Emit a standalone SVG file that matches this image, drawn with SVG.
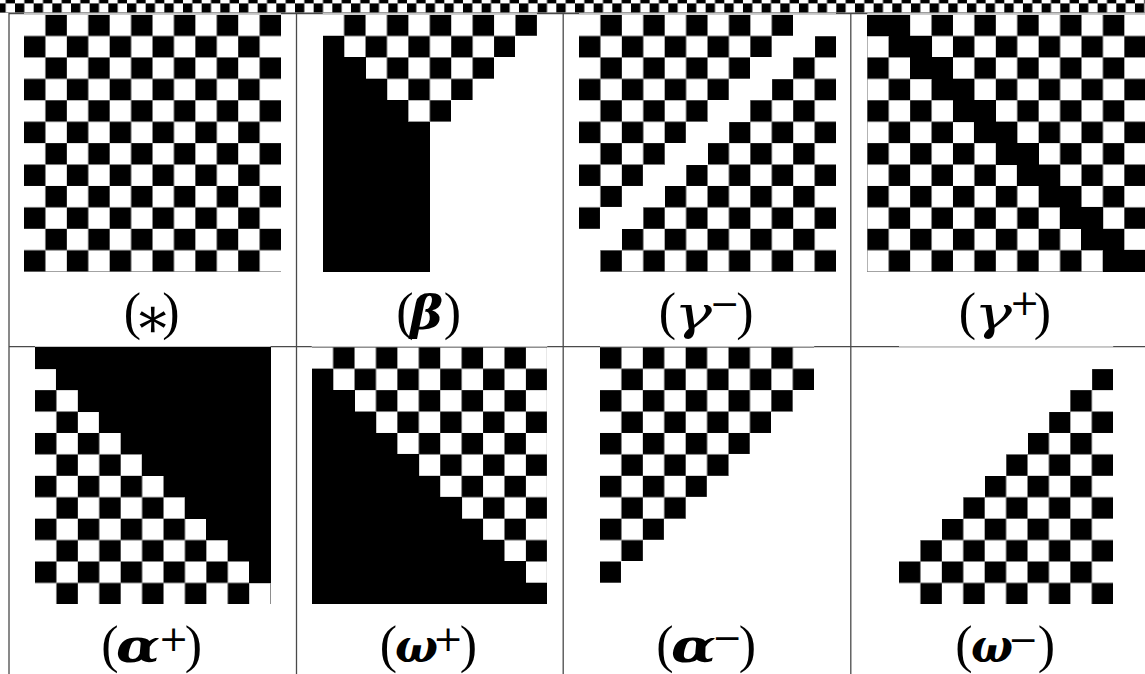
<svg xmlns="http://www.w3.org/2000/svg" width="1145" height="674" viewBox="0 0 1145 674">
<style>
.lab { font-family: "Liberation Serif", "DejaVu Serif", serif; font-size: 52px; fill: #000; }
.par { text-anchor: middle; }
.gr { font-family: "DejaVu Serif", "Liberation Serif", serif; font-size: 47px; font-style: italic; }
.it { font-weight: normal; }
.bi { font-weight: bold; }
.sup { font-family: "DejaVu Serif", serif; font-size: 36px; text-anchor: middle; }
.ast { font-family: "DejaVu Serif", serif; font-size: 56px; text-anchor: middle; }
.dark { stroke: #4a4a4a; stroke-width: 1.3; fill: none; }
.light { stroke: #c4c4c4; stroke-width: 1.3; fill: none; }
.board { shape-rendering: crispEdges; }
</style>
<defs>
<pattern id="even" width="2" height="2" patternUnits="userSpaceOnUse"><rect width="1" height="1" fill="#000"/><rect x="1" y="1" width="1" height="1" fill="#000"/></pattern>
<pattern id="odd" width="2" height="2" patternUnits="userSpaceOnUse"><rect x="1" width="1" height="1" fill="#000"/><rect y="1" width="1" height="1" fill="#000"/></pattern>
</defs>
<rect width="1145" height="674" fill="#fff"/>

<g id="top-strip" class="board" transform="translate(15,3.4) scale(9.333)">
<rect x="-2" y="-1" width="125" height="2" fill="url(#even)"/>
</g>

<g id="connectors">
<line class="dark" x1="9" y1="13.7" x2="1145" y2="13.7"/>
<line class="light" x1="24" y1="13.7" x2="281" y2="13.7"/>
<line class="light" x1="322.7" y1="13.7" x2="536.9" y2="13.7"/>
<line class="light" x1="579" y1="13.7" x2="836" y2="13.7"/>
<line class="light" x1="867.3" y1="13.7" x2="1145" y2="13.7"/>
<line class="dark" x1="9" y1="346.7" x2="1145" y2="346.7"/>
<line class="light" x1="35" y1="346.7" x2="270.6" y2="346.7"/>
<line class="light" x1="311.7" y1="346.7" x2="547.3" y2="346.7"/>
<line class="light" x1="600" y1="346.7" x2="814.2" y2="346.7"/>
<line class="light" x1="899" y1="346.7" x2="1113.2" y2="346.7"/>
<line class="dark" x1="9" y1="13" x2="9" y2="674"/>
<line class="dark" x1="296.5" y1="13" x2="296.5" y2="674"/>
<line class="dark" x1="563.2" y1="13" x2="563.2" y2="674"/>
<line class="dark" x1="850.8" y1="13" x2="850.8" y2="674"/>
</g>

<g id="panel-star">
<g class="board" transform="translate(24,14.6) scale(21.42)">
<rect width="12" height="12" fill="url(#odd)"/>
</g>
<text class="lab par" x="132.5" y="329">(</text>
<text class="ast" x="152.5" y="336.5">∗</text>
<text class="lab par" x="171" y="329">)</text>
</g>

<g id="panel-beta">
<g class="board" transform="translate(322.7,14.6) scale(21.42)">
<polygon fill="url(#odd)" points="0,0 10,0 10,1 9,1 9,2 8,2 8,3 7,3 7,4 6,4 6,5 4,5 4,4 3,4 3,3 2,3 2,2 1,2 1,1 0,1"/>
<polygon fill="#000" points="0,1 1,1 1,2 2,2 2,3 3,3 3,4 4,4 4,5 5,5 5,12 0,12"/>
</g>
<text class="lab par" x="405" y="329">(</text>
<text class="gr bi" x="410" y="329" textLength="33" lengthAdjust="spacingAndGlyphs">β</text>
<text class="lab par" x="452.5" y="329">)</text>
</g>

<g id="panel-gamma-minus">
<g class="board" transform="translate(579,14.6) scale(21.42)">
<polygon fill="url(#odd)" points="0,0 10,0 10,1 9,1 9,2 8,2 8,3 7,3 7,4 6,4 6,5 5,5 5,6 4,6 4,7 3,7 3,8 2,8 2,9 1,9 1,10 0,10"/>
<polygon fill="url(#even)" points="12,1 12,12 1,12 1,11 2,11 2,10 3,10 3,9 4,9 4,8 5,8 5,7 6,7 6,6 7,6 7,5 8,5 8,4 9,4 9,3 10,3 10,2 11,2 11,1"/>
</g>
<text class="lab par" x="667.5" y="329">(</text>
<text class="gr it" x="674" y="329" textLength="38" lengthAdjust="spacingAndGlyphs">γ</text>
<text class="sup" x="724.5" y="315.5">−</text>
<text class="lab par" x="745" y="329">)</text>
</g>

<g id="panel-gamma-plus">
<g class="board" transform="translate(867.3,14.6) scale(21.42)">
<polygon fill="url(#even)" points="0,1 1,1 1,2 2,2 2,3 3,3 3,4 4,4 4,5 5,5 5,6 6,6 6,7 7,7 7,8 8,8 8,9 9,9 9,10 10,10 10,11 11,11 11,12 0,12"/>
<polygon fill="#000" points="0,0 2,0 2,1 3,1 3,2 4,2 4,3 5,3 5,4 6,4 6,5 7,5 7,6 8,6 8,7 9,7 9,8 10,8 10,9 11,9 11,10 12,10 12,11 13,11 13,12 11,12 11,11 10,11 10,10 9,10 9,9 8,9 8,8 7,8 7,7 6,7 6,6 5,6 5,5 4,5 4,4 3,4 3,3 2,3 2,2 1,2 1,1 0,1"/>
<polygon fill="url(#odd)" points="2,0 13,0 13,11 12,11 12,10 11,10 11,9 10,9 10,8 9,8 9,7 8,7 8,6 7,6 7,5 6,5 6,4 5,4 5,3 4,3 4,2 3,2 3,1 2,1"/>
</g>
<text class="lab par" x="967.5" y="329">(</text>
<text class="gr it" x="974" y="329" textLength="38" lengthAdjust="spacingAndGlyphs">γ</text>
<text class="sup" x="1024.5" y="314.5">+</text>
<text class="lab par" x="1042.5" y="329">)</text>
</g>

<g id="panel-alpha-plus">
<g class="board" transform="translate(35,347.3) scale(21.42)">
<rect width="11" height="12" fill="url(#even)"/>
<polygon fill="#000" points="0,0 11,0 11,11 10,11 10,10 9,10 9,9 8,9 8,8 7,8 7,7 6,7 6,6 5,6 5,5 4,5 4,4 3,4 3,3 2,3 2,2 1,2 1,1 0,1"/>
</g>
<text class="lab par" x="110" y="662">(</text>
<text class="gr bi" x="116" y="662" textLength="44" lengthAdjust="spacingAndGlyphs">α</text>
<text class="sup" x="173.5" y="651">+</text>
<text class="lab par" x="193.5" y="662">)</text>
</g>

<g id="panel-omega-plus">
<g class="board" transform="translate(311.7,347.3) scale(21.42)">
<rect width="11" height="12" fill="url(#odd)"/>
<polygon fill="#000" points="0,1 1,1 1,2 2,2 2,3 3,3 3,4 4,4 4,5 5,5 5,6 6,6 6,7 7,7 7,8 8,8 8,9 9,9 9,10 10,10 10,11 11,11 11,12 0,12"/>
</g>
<text class="lab par" x="388.5" y="662">(</text>
<text class="gr bi" x="395" y="662" textLength="43" lengthAdjust="spacingAndGlyphs">ω</text>
<text class="sup" x="448" y="650.5">+</text>
<text class="lab par" x="468.5" y="662">)</text>
</g>

<g id="panel-alpha-minus">
<g class="board" transform="translate(600,347.3) scale(21.42)">
<polygon fill="url(#even)" points="0,0 10,0 10,2 9,2 9,3 8,3 8,4 7,4 7,5 6,5 6,6 5,6 5,7 4,7 4,8 3,8 3,9 2,9 2,10 1,10 1,11 0,11"/>
</g>
<text class="lab par" x="665" y="662">(</text>
<text class="gr bi" x="671" y="662" textLength="45" lengthAdjust="spacingAndGlyphs">α</text>
<text class="sup" x="727" y="650">−</text>
<text class="lab par" x="747.5" y="662">)</text>
</g>

<g id="panel-omega-minus">
<g class="board" transform="translate(899,347.3) scale(21.42)">
<polygon fill="url(#even)" points="9,1 10,1 10,12 0,12 0,10 1,10 1,9 2,9 2,8 3,8 3,7 4,7 4,6 5,6 5,5 6,5 6,4 7,4 7,3 8,3 8,2 9,2"/>
</g>
<text class="lab par" x="964" y="662">(</text>
<text class="gr bi" x="971" y="662" textLength="42" lengthAdjust="spacingAndGlyphs">ω</text>
<text class="sup" x="1023" y="652">−</text>
<text class="lab par" x="1046.5" y="662">)</text>
</g>
</svg>
